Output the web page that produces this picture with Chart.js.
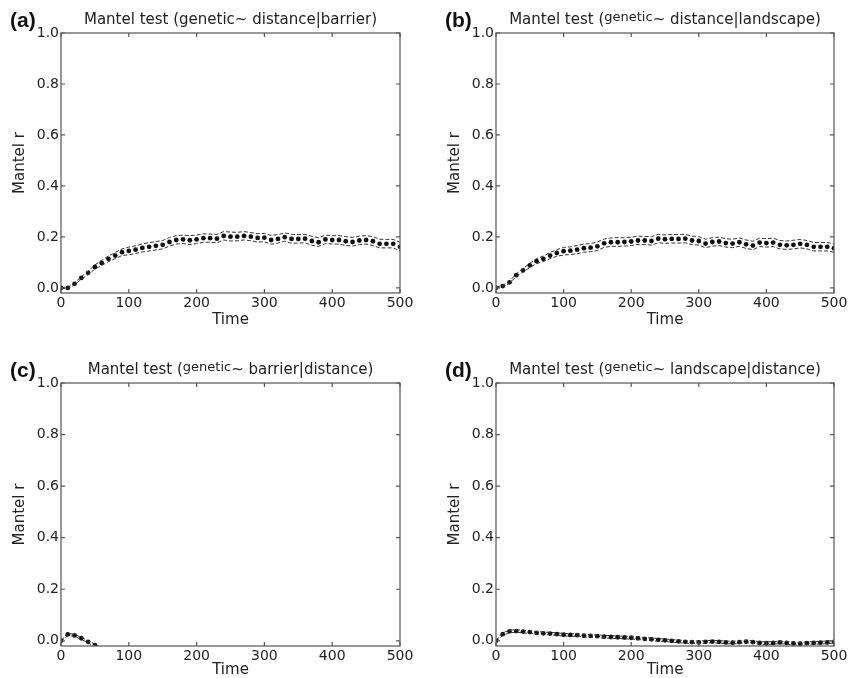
<!DOCTYPE html>
<html>
<head>
<meta charset="utf-8">
<script src="https://cdn.jsdelivr.net/npm/chart.js@4.4.0/dist/chart.umd.min.js"></script>
<style>
    body { margin: 0; background: #fff; }
    #page { position: relative; width: 848px; height: 678px; overflow: hidden; font-family: "DejaVu Sans", sans-serif; color: #222; }
    .panel { position: absolute; width: 424px; height: 339px; }
    .panel canvas { position: absolute; left: 0; top: 0; }
    .title { position: absolute; font-size: 15px; line-height: 20px; white-space: nowrap; transform: translateX(-50%); }
    .title .sup { font-size: 13px; position: relative; top: -3px; }
    .tag { position: absolute; font-family: "Liberation Sans", Arial, sans-serif; font-weight: bold; font-size: 21px; line-height: 21px; color: #111; }
</style>
</head>
<body>
<div id="page"></div>
<script>
// time steps
const time = [0,10,20,30,40,50,60,70,80,90,
    100,110,120,130,140,150,160,170,180,190,
    200,210,220,230,240,250,260,270,280,290,
    300,310,320,330,340,350,360,370,380,390,
    400,410,420,430,440,450,460,470,480,490,
    500];
const yTicks = [0, 0.2, 0.4, 0.6, 0.8, 1.0];

// (a) genetic ~ distance | barrier
const meanA = [0.000,0.000,0.016,0.039,0.059,0.082,0.098,0.114,0.127,0.140,
    0.145,0.150,0.157,0.161,0.165,0.169,0.180,0.188,0.190,0.187,
    0.190,0.195,0.195,0.193,0.204,0.201,0.201,0.204,0.201,0.196,
    0.197,0.188,0.192,0.199,0.192,0.192,0.193,0.184,0.179,0.190,
    0.188,0.188,0.183,0.180,0.186,0.188,0.183,0.173,0.173,0.173,
    0.161];
const upA = [0.002,0.003,0.020,0.044,0.066,0.090,0.108,0.125,0.139,0.153,
    0.160,0.165,0.173,0.177,0.182,0.186,0.198,0.205,0.207,0.205,
    0.207,0.212,0.211,0.210,0.221,0.219,0.218,0.221,0.217,0.213,
    0.214,0.206,0.209,0.216,0.210,0.209,0.210,0.202,0.197,0.207,
    0.205,0.205,0.201,0.198,0.203,0.205,0.201,0.191,0.190,0.190,
    0.179];
const lowA = [-0.002,-0.003,0.012,0.034,0.052,0.074,0.088,0.103,0.115,0.127,
    0.130,0.135,0.141,0.145,0.149,0.153,0.164,0.172,0.174,0.170,
    0.174,0.179,0.179,0.177,0.188,0.184,0.185,0.188,0.185,0.180,
    0.181,0.171,0.176,0.183,0.175,0.176,0.177,0.167,0.163,0.174,
    0.172,0.172,0.166,0.164,0.170,0.172,0.166,0.157,0.157,0.157,
    0.145];

// (b) genetic ~ distance | landscape
const meanB = [0.000,0.007,0.022,0.050,0.069,0.088,0.105,0.114,0.127,0.137,
    0.144,0.146,0.150,0.156,0.158,0.163,0.175,0.179,0.179,0.180,
    0.182,0.186,0.186,0.184,0.193,0.191,0.192,0.192,0.193,0.186,
    0.184,0.174,0.180,0.182,0.176,0.174,0.179,0.171,0.166,0.178,
    0.176,0.178,0.169,0.167,0.169,0.173,0.169,0.161,0.161,0.161,
    0.156];
const upB = [0.002,0.010,0.026,0.055,0.076,0.096,0.115,0.125,0.139,0.150,
    0.159,0.161,0.166,0.172,0.174,0.180,0.192,0.196,0.197,0.197,
    0.199,0.203,0.202,0.201,0.210,0.208,0.209,0.210,0.210,0.203,
    0.201,0.191,0.197,0.199,0.193,0.191,0.196,0.188,0.183,0.195,
    0.193,0.195,0.186,0.184,0.187,0.190,0.186,0.178,0.178,0.178,
    0.173];
const lowB = [-0.002,0.004,0.018,0.045,0.062,0.080,0.095,0.103,0.115,0.124,
    0.129,0.131,0.134,0.140,0.142,0.147,0.159,0.163,0.163,0.164,
    0.166,0.170,0.170,0.168,0.177,0.175,0.176,0.176,0.177,0.170,
    0.168,0.158,0.164,0.166,0.160,0.158,0.163,0.155,0.150,0.162,
    0.160,0.162,0.153,0.151,0.153,0.157,0.153,0.145,0.145,0.145,
    0.140];

// (c) genetic ~ barrier | distance (drops below the axis after ~t=50)
const meanC = [0.000,0.025,0.021,0.010,-0.004,-0.017,-0.030,-0.040,-0.047,-0.052,
    -0.055,-0.057,-0.058,-0.060,-0.061,-0.062,-0.062,-0.063,-0.063,-0.064,
    -0.064,-0.064,-0.065,-0.065,-0.065,-0.066,-0.066,-0.066,-0.066,-0.067,
    -0.067,-0.067,-0.067,-0.068,-0.068,-0.068,-0.068,-0.068,-0.069,-0.069,
    -0.069,-0.069,-0.069,-0.070,-0.070,-0.070,-0.070,-0.070,-0.070,-0.071,
    -0.071];
const upC = [0.002,0.029,0.025,0.014,0.000,-0.013,-0.026,-0.036,-0.043,-0.048,
    -0.051,-0.053,-0.054,-0.056,-0.057,-0.058,-0.058,-0.059,-0.059,-0.060,
    -0.060,-0.060,-0.061,-0.061,-0.061,-0.062,-0.062,-0.062,-0.062,-0.063,
    -0.063,-0.063,-0.063,-0.064,-0.064,-0.064,-0.064,-0.064,-0.065,-0.065,
    -0.065,-0.065,-0.065,-0.066,-0.066,-0.066,-0.066,-0.066,-0.066,-0.067,
    -0.067];
const lowC = [-0.002,0.021,0.017,0.006,-0.008,-0.021,-0.034,-0.044,-0.051,-0.056,
    -0.059,-0.061,-0.062,-0.064,-0.065,-0.066,-0.066,-0.067,-0.067,-0.068,
    -0.068,-0.068,-0.069,-0.069,-0.069,-0.070,-0.070,-0.070,-0.070,-0.071,
    -0.071,-0.071,-0.071,-0.072,-0.072,-0.072,-0.072,-0.072,-0.073,-0.073,
    -0.073,-0.073,-0.073,-0.074,-0.074,-0.074,-0.074,-0.074,-0.074,-0.075,
    -0.075];

// (d) genetic ~ landscape | distance
const meanD = [0.000,0.026,0.037,0.038,0.036,0.034,0.031,0.029,0.028,0.026,
    0.024,0.023,0.022,0.020,0.019,0.018,0.016,0.015,0.014,0.013,
    0.012,0.010,0.008,0.006,0.004,0.002,0.000,-0.002,-0.004,-0.005,
    -0.006,-0.004,-0.003,-0.004,-0.006,-0.007,-0.005,-0.003,-0.005,-0.008,
    -0.009,-0.008,-0.006,-0.008,-0.010,-0.011,-0.009,-0.008,-0.007,-0.006,
    -0.004];
const upD = [0.002,0.031,0.042,0.043,0.041,0.039,0.036,0.034,0.033,0.031,
    0.029,0.028,0.027,0.025,0.024,0.023,0.021,0.020,0.019,0.018,
    0.017,0.015,0.013,0.011,0.009,0.007,0.005,0.003,0.001,0.000,
    -0.001,0.001,0.002,0.001,-0.001,-0.002,0.000,0.002,0.000,-0.003,
    -0.004,-0.003,-0.001,-0.003,-0.005,-0.006,-0.004,-0.003,-0.002,-0.001,
    0.001];
const lowD = [-0.002,0.021,0.032,0.033,0.031,0.029,0.026,0.024,0.023,0.021,
    0.019,0.018,0.017,0.015,0.014,0.013,0.011,0.010,0.009,0.008,
    0.007,0.005,0.003,0.001,-0.001,-0.003,-0.005,-0.007,-0.009,-0.010,
    -0.011,-0.009,-0.008,-0.009,-0.011,-0.012,-0.010,-0.008,-0.010,-0.013,
    -0.014,-0.013,-0.011,-0.013,-0.015,-0.016,-0.014,-0.013,-0.012,-0.011,
    -0.009];

const panels = [
    { tag: '(a)', title: 'Mantel test (genetic~ distance|barrier)', mean: meanA, up: upA, low: lowA,
      left: 0, top: 0, padL: 0, padR: 24, padT: 33, xh: 46, timePad: 11 },
    { tag: '(b)', title: 'Mantel test (<span class="sup">genetic</span>~ distance|landscape)', mean: meanB, up: upB, low: lowB,
      left: 424, top: 0, padL: 11, padR: 14, padT: 33, xh: 46, timePad: 11 },
    { tag: '(c)', title: 'Mantel test (<span class="sup">genetic</span>~ barrier|distance)', mean: meanC, up: upC, low: lowC,
      left: 0, top: 339, padL: 0, padR: 24, padT: 44, xh: 32, timePad: 0 },
    { tag: '(d)', title: 'Mantel test (<span class="sup">genetic</span>~ landscape|distance)', mean: meanD, up: upD, low: lowD,
      left: 424, top: 339, padL: 11, padR: 14, padT: 44, xh: 32, timePad: 0 }
];

// box around the axes with inward ticks on all four sides
const framePlugin = {
    id: 'frame',
    afterDatasetsDraw(chart) {
        const { ctx, chartArea: a, scales: { x, y } } = chart;
        const len = 4;
        ctx.save();
        ctx.strokeStyle = '#555';
        ctx.lineWidth = 1.2;
        ctx.strokeRect(a.left, a.top, a.right - a.left, a.bottom - a.top);
        ctx.beginPath();
        x.ticks.forEach(t => {
            const px = x.getPixelForValue(t.value);
            ctx.moveTo(px, a.bottom); ctx.lineTo(px, a.bottom - len);
            ctx.moveTo(px, a.top); ctx.lineTo(px, a.top + len);
        });
        y.ticks.forEach(t => {
            const py = y.getPixelForValue(t.value);
            ctx.moveTo(a.left, py); ctx.lineTo(a.left + len, py);
            ctx.moveTo(a.right, py); ctx.lineTo(a.right - len, py);
        });
        ctx.stroke();
        ctx.restore();
    }
};

const page = document.getElementById('page');
const pts = arr => time.map((t, i) => ({ x: t, y: arr[i] }));
const tickFont = { family: 'DejaVu Sans', size: 14 };
const labelFont = { family: 'DejaVu Sans', size: 15, lineHeight: 1 };

panels.forEach(p => {
    const box = document.createElement('div');
    box.className = 'panel';
    box.style.left = p.left + 'px';
    box.style.top = p.top + 'px';
    const canvas = document.createElement('canvas');
    canvas.width = 424;
    canvas.height = 339;
    box.appendChild(canvas);

    const plotL = p.padL + 61;
    const plotR = 424 - p.padR;
    const title = document.createElement('div');
    title.className = 'title';
    title.innerHTML = p.title;
    title.style.left = ((plotL + plotR) / 2) + 'px';
    title.style.top = (p.padT - 24) + 'px';
    box.appendChild(title);

    const tag = document.createElement('div');
    tag.className = 'tag';
    tag.textContent = p.tag;
    tag.style.left = (p.padL + 10) + 'px';
    tag.style.top = (p.padT - 24) + 'px';
    box.appendChild(tag);
    page.appendChild(box);

    const band = arr => ({
        data: pts(arr), borderColor: '#333', borderWidth: 1, borderDash: [4, 2],
        pointRadius: 0, fill: false, tension: 0, clip: 0
    });

    new Chart(canvas.getContext('2d'), {
        type: 'line',
        data: {
            datasets: [
                band(p.up),
                band(p.low),
                { data: pts(p.mean), showLine: false, pointRadius: 2.4, pointBorderWidth: 0,
                  pointBackgroundColor: '#111', clip: 0 }
            ]
        },
        options: {
            responsive: false,
            animation: false,
            events: [],
            layout: { padding: { left: p.padL, right: p.padR, top: p.padT, bottom: 0 } },
            plugins: { legend: { display: false }, tooltip: { enabled: false } },
            scales: {
                x: {
                    type: 'linear', min: 0, max: 500,
                    grid: { display: false, drawTicks: false },
                    border: { display: false },
                    ticks: { stepSize: 100, padding: 2, color: '#222', font: tickFont, maxRotation: 0 },
                    title: { display: true, text: 'Time', color: '#222', font: labelFont,
                             padding: { top: 0, bottom: p.timePad } },
                    afterFit: s => { s.height = p.xh; s.paddingLeft = 0; s.paddingRight = 0; }
                },
                y: {
                    min: -0.02, max: 1.0,
                    grid: { display: false, drawTicks: false },
                    border: { display: false },
                    afterBuildTicks: s => { s.ticks = yTicks.map(v => ({ value: v })); },
                    ticks: { padding: 2, color: '#222', font: tickFont, callback: v => v.toFixed(1) },
                    title: { display: true, text: 'Mantel r', color: '#222', font: labelFont,
                             padding: { top: 13, bottom: 0 } },
                    afterFit: s => { s.width = 61; s.paddingTop = 0; s.paddingBottom = 0; }
                }
            }
        },
        plugins: [framePlugin]
    });
});
</script>
</body>
</html>
